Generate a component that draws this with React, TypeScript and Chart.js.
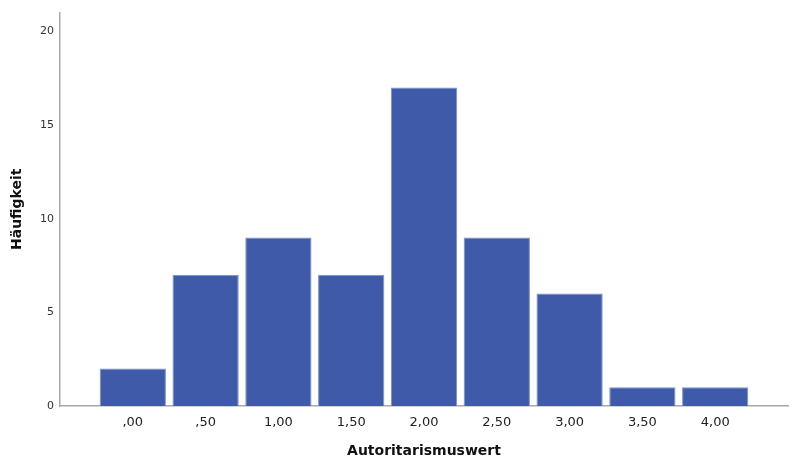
// Histogram.tsx
// @ts-nocheck
import React, { useEffect, useRef } from "react";
import Chart from "chart.js/auto";

// bin centres and frequencies
const bins = [0, 0.5, 1, 1.5, 2, 2.5, 3, 3.5, 4];
const counts = [2, 7, 9, 7, 17, 9, 6, 1, 1];
const yTicks = [0, 5, 10, 15, 20];

const FONT = "'DejaVu Sans', 'Noto Sans', sans-serif";

// SPSS style: ",50" / "1,00"
const fmt = (v) => {
    const s = Number(v).toFixed(2).replace(".", ",");
    return s.startsWith("0,") ? s.slice(1) : s;
};

const App: React.FC = () => {
    const canvasRef = useRef(null);
    const chartRef = useRef(null);

    useEffect(() => {
        document.body.style.margin = "0";
        if (!canvasRef.current) return;
        if (chartRef.current) chartRef.current.destroy();

        chartRef.current = new Chart(canvasRef.current, {
            type: "bar",
            data: {
                datasets: [
                    {
                        label: "Häufigkeit",
                        data: bins.map((b, i) => ({ x: b, y: counts[i] })),
                        backgroundColor: "#3e5aa8",
                        borderColor: "#7d8fc6",
                        borderWidth: 1,
                        barPercentage: 0.91,
                        categoryPercentage: 1,
                    },
                ],
            },
            options: {
                animation: false,
                responsive: false,
                devicePixelRatio: 1,
                layout: { padding: { top: 4, right: 12, left: 0, bottom: 0 } },
                plugins: {
                    legend: { display: false },
                    tooltip: { enabled: false },
                },
                scales: {
                    x: {
                        type: "linear",
                        min: -0.5,
                        max: 4.5,
                        offset: false,
                        grid: { display: false, drawTicks: false },
                        border: { display: true, color: "#a8a8a8", width: 1.5 },
                        afterBuildTicks: (scale) => {
                            scale.ticks = bins.map((v) => ({ value: v }));
                        },
                        afterFit: (scale) => {
                            scale.height = 61;
                        },
                        ticks: {
                            autoSkip: false,
                            maxRotation: 0,
                            padding: 9,
                            color: "#222",
                            font: { family: FONT, size: 13 },
                            callback: (v) => fmt(v),
                        },
                        title: {
                            display: true,
                            text: "Autoritarismuswert",
                            color: "#111",
                            padding: { top: 0, bottom: 7 },
                            font: { family: FONT, size: 14, weight: "bold" },
                        },
                    },
                    y: {
                        min: 0,
                        max: 21,
                        grid: { display: false, drawTicks: false },
                        border: { display: true, color: "#a8a8a8", width: 1.5 },
                        afterBuildTicks: (scale) => {
                            scale.ticks = yTicks.map((v) => ({ value: v }));
                        },
                        afterFit: (scale) => {
                            scale.width = 60;
                        },
                        ticks: {
                            padding: 6,
                            color: "#333",
                            font: { family: FONT, size: 11 },
                        },
                        title: {
                            display: true,
                            text: "Häufigkeit",
                            color: "#111",
                            padding: { top: 9, bottom: 0 },
                            font: { family: FONT, size: 14, weight: "bold" },
                        },
                    },
                },
            },
        });

        return () => {
            if (chartRef.current) {
                chartRef.current.destroy();
                chartRef.current = null;
            }
        };
    }, []);

    return (
        <div style={{ width: 800, height: 467, background: "#fff" }}>
            <canvas ref={canvasRef} width={800} height={467} />
        </div>
    );
};

export default App;
